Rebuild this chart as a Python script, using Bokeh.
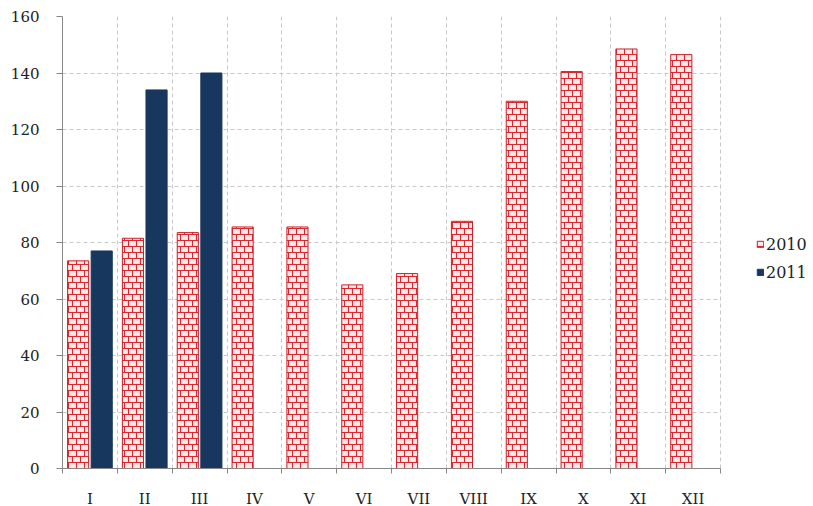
import base64, struct, zlib
from bokeh.plotting import figure
from bokeh.models import (Range1d, FixedTicker, Legend, LegendItem,
                          ImageURLTexture, ColumnDataSource)
from bokeh.core.properties import value
from bokeh.embed import file_html
from bokeh.resources import INLINE

months = ["I", "II", "III", "IV", "V", "VI", "VII", "VIII", "IX", "X", "XI", "XII"]
v2010 = [73.5, 81.5, 83.5, 85.5, 85.5, 65, 69, 87.5, 130, 140.5, 148.5, 146.5]
v2011 = [77, 134, 140]
y_ticks = [0, 20, 40, 60, 80, 100, 120, 140, 160]

centers = [i + 0.5 for i in range(len(months))]
bounds = [i for i in range(len(months) + 1)]

FONT = "DejaVu Serif"
FRAME_W, FRAME_H = 749, 452
X_END = 12 * FRAME_W / 658.0


def brick_png(w=8, h=12):
    """Brick texture tile: two courses of bricks, offset by half a brick."""
    mortar = (222, 38, 46, 255)
    brick = (252, 232, 230, 255)
    half_h = h // 2
    rows = []
    for y in range(h):
        row = bytearray([0])
        for x in range(w):
            if y == 0 or y == half_h:
                c = mortar
            elif y < half_h and x == 0:
                c = mortar
            elif y > half_h and x == w // 2:
                c = mortar
            else:
                c = brick
            row += bytes(c)
        rows.append(bytes(row))
    raw = b"".join(rows)

    def chunk(t, d):
        return struct.pack(">I", len(d)) + t + d + struct.pack(">I", zlib.crc32(t + d) & 0xffffffff)
    png = (b"\x89PNG\r\n\x1a\n"
           + chunk(b"IHDR", struct.pack(">IIBBBBB", w, h, 8, 6, 0, 0, 0))
           + chunk(b"IDAT", zlib.compress(raw)) + chunk(b"IEND", b""))
    return "data:image/png;base64," + base64.b64encode(png).decode()


bricks = ImageURLTexture(url=brick_png())

p = figure(frame_width=FRAME_W, frame_height=FRAME_H, output_backend="svg", toolbar_location=None,
           x_range=Range1d(0, X_END), y_range=Range1d(0, 160),
           min_border_left=62, min_border_right=0, min_border_top=16, min_border_bottom=34)
p.outline_line_color = None
p.background_fill_color = "white"

src2010 = ColumnDataSource(dict(x=[c - 0.215 for c in centers], top=v2010))
src2011 = ColumnDataSource(dict(x=[c + 0.215 for c in centers[:len(v2011)]], top=v2011))

r1 = p.vbar(x="x", top="top", bottom=0, width=0.385, source=src2010,
            fill_color="#fce8e6", line_color="#c8202a", line_width=1,
            hatch_pattern=value("bricks"), hatch_extra={"bricks": bricks},
            hatch_color="#de262e")
r2 = p.vbar(x="x", top="top", bottom=0, width=0.385, source=src2011,
            fill_color="#17375e", line_color="#17375e", line_width=1)

xa = p.xaxis[0]
xa.ticker = FixedTicker(ticks=centers, minor_ticks=bounds)
xa.major_label_overrides = {c: m for c, m in zip(centers, months)}
xa.bounds = (0, 12)
xa.major_tick_line_color = None
xa.minor_tick_out = 5
xa.minor_tick_in = 0
xa.minor_tick_line_color = "#868686"
xa.axis_line_color = "#868686"
xa.major_label_standoff = 15
xa.major_label_text_font = FONT
xa.major_label_text_font_size = "15px"
xa.major_label_text_color = "#222222"

ya = p.yaxis[0]
ya.ticker = FixedTicker(ticks=y_ticks, minor_ticks=[])
ya.major_tick_out = 6
ya.major_tick_in = 0
ya.major_tick_line_color = "#868686"
ya.axis_line_color = "#868686"
ya.major_label_standoff = 17
ya.major_label_text_font = FONT
ya.major_label_text_font_size = "15px"
ya.major_label_text_color = "#222222"

p.ygrid.grid_line_color = "#c8c8c8"
p.ygrid.grid_line_dash = "4 3"
if "cross_bounds" in p.ygrid.properties():
    p.ygrid.cross_bounds = (0, 12)
p.xgrid.ticker = xa.ticker
p.xgrid.grid_line_color = None
p.xgrid.minor_grid_line_color = "#c8c8c8"
p.xgrid.minor_grid_line_dash = "4 3"

legend = Legend(items=[LegendItem(label="2010", renderers=[r1]),
                       LegendItem(label="2011", renderers=[r2])],
                location=(694, 186), orientation="vertical",
                glyph_width=8, glyph_height=8, label_standoff=2,
                label_text_font=FONT, label_text_font_size="16px",
                label_text_color="#222222", label_height=20, spacing=8,
                padding=0, margin=0, border_line_color=None,
                background_fill_alpha=0)
p.add_layout(legend, "center")

open("out.html", "w").write(file_html(p, INLINE))
